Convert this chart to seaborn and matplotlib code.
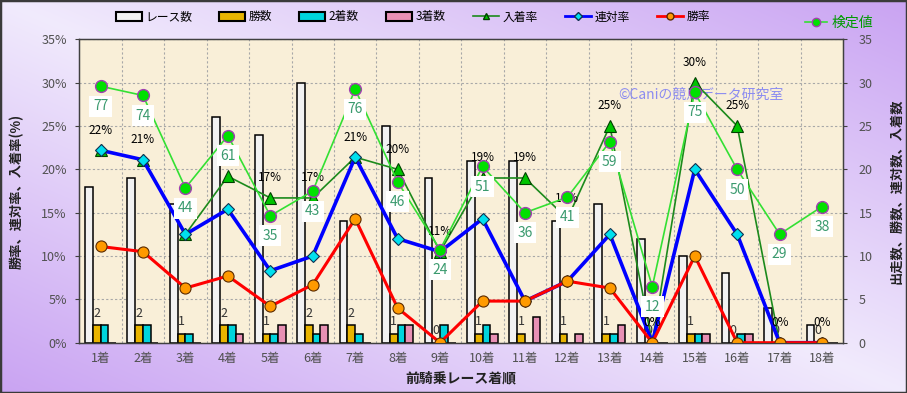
import numpy as np
import pandas as pd
import matplotlib
matplotlib.use("Agg")
import matplotlib.pyplot as plt
import seaborn as sns
from matplotlib.patches import Patch, Rectangle
from matplotlib.lines import Line2D

# ---------------- data ----------------
categories = ["1着", "2着", "3着", "4着", "5着", "6着", "7着", "8着", "9着",
              "10着", "11着", "12着", "13着", "14着", "15着", "16着", "17着", "18着"]
races = [18, 19, 16, 26, 24, 30, 14, 25, 19, 21, 21, 14, 16, 12, 10, 8, 4, 2]
wins = [2, 2, 1, 2, 1, 2, 2, 1, 0, 1, 1, 1, 1, 0, 1, 0, 0, 0]
seconds = [2, 2, 1, 2, 1, 1, 1, 2, 2, 2, 0, 0, 1, 0, 1, 1, 0, 0]
thirds = [0, 0, 0, 1, 2, 2, 0, 2, 0, 1, 3, 1, 2, 0, 1, 1, 0, 0]
place_rate = [22.2, 21.1, 12.5, 19.2, 16.7, 16.7, 21.4, 20.0, 10.5, 19.0,
              19.0, 14.3, 25.0, 0.0, 30.0, 25.0, 0.0, 0.0]
quinella_rate = [22.2, 21.1, 12.5, 15.4, 8.3, 10.0, 21.4, 12.0, 10.5, 14.3,
                 4.8, 7.1, 12.5, 0.0, 20.0, 12.5, 0.0, 0.0]
win_rate = [11.1, 10.5, 6.3, 7.7, 4.2, 6.7, 14.3, 4.0, 0.0, 4.8,
            4.8, 7.1, 6.3, 0.0, 10.0, 0.0, 0.0, 0.0]
test_values = [77, 74, 44, 61, 35, 43, 76, 46, 24, 51, 36, 41, 59, 12, 75, 50, 29, 38]

bar_names = ["レース数", "勝数", "2着数", "3着数"]
line_names = ["入着率", "連対率", "勝率"]
test_name = "検定値"
left_ticks = [0, 5, 10, 15, 20, 25, 30, 35]
right_ticks = [0, 5, 10, 15, 20, 25, 30, 35]

# ---------------- style ----------------
bar_colors = ["#f2f2f2", "#e8b400", "#00d4dc", "#e890b4"]
plt.rcParams["font.family"] = ["Noto Sans CJK JP", "DejaVu Sans"]
tick_color = "#505050"

pos = np.arange(len(categories))
df_bars = pd.concat([
    pd.DataFrame({"pos": pos, "series": name, "count": vals})
    for name, vals in zip(bar_names, [races, wins, seconds, thirds])
], ignore_index=True)

W, H = 907, 393
fig = plt.figure(figsize=(W / 100, H / 100), dpi=100)

# gradient background
bg = fig.add_axes([0, 0, 1, 1], zorder=-10)
xx = np.linspace(0, 1, W)[None, :]
yy = np.linspace(0, 1, H)[:, None]
t = np.abs(xx - yy)
light = np.array([0.945, 0.92, 0.99])
purple = np.array([0.79, 0.64, 0.95])
img = light + (purple - light) * t[..., None]
bg.imshow(img, aspect="auto", extent=[0, 1, 0, 1], origin="upper")
bg.axis("off")

L, R, T, B = 79.3, 843.3, 39.3, 342.7
ax = fig.add_axes([L / W, (H - B) / H, (R - L) / W, (B - T) / H])
ax.set_facecolor("#f9efd8")

# bars (count scale 0-35 shares the 0-35 range with the percent scale)
sns.barplot(data=df_bars, x="pos", y="count", hue="series", hue_order=bar_names,
            palette=bar_colors, native_scale=True, width=0.73, gap=0,
            edgecolor="black", linewidth=1.1, saturation=1, legend=False,
            ax=ax, zorder=2)
ax.bar_label(ax.containers[1], labels=[str(v) for v in wins], padding=4,
             fontsize=9, color="#333333", zorder=3)

# lines
sns.lineplot(x=pos, y=place_rate, ax=ax, color="#1c8a1c", lw=1.2, marker="^",
             markersize=9, markerfacecolor="#00c400", markeredgecolor="#004000",
             markeredgewidth=0.8, zorder=4)
sns.lineplot(x=pos, y=quinella_rate, ax=ax, color="#0000ff", lw=2.6, marker="D",
             markersize=6.5, markerfacecolor="#00e0ee", markeredgecolor="#103050",
             markeredgewidth=0.8, zorder=5)
sns.lineplot(x=pos, y=win_rate, ax=ax, color="#ff0000", lw=2.2, marker="o",
             markersize=8, markerfacecolor="#ff9a00", markeredgecolor="#5a2a00",
             markeredgewidth=0.8, zorder=6)
for p, v in zip(pos, place_rate):
    ax.annotate(f"{int(v + 0.5)}%", (p, v), xytext=(0, 14.5), textcoords="offset points",
                ha="center", va="center", fontsize=8.5, color="black", zorder=7)

ax.set_xlim(-0.5, len(categories) - 0.5)
ax.set_ylim(0, 35)
ax.set_yticks(left_ticks)
ax.set_yticklabels([f"{v}%" for v in left_ticks])
ax.set_xticks(pos)
ax.set_xticklabels(categories)
ax.set_xticks(pos[:-1] + 0.5, minor=True)
ax.set_axisbelow(True)
ax.grid(axis="y", which="major", color="#a8a8a8", ls=(0, (2, 2)), lw=0.8)
ax.grid(axis="x", which="minor", color="#a8a8a8", ls=(0, (2, 2)), lw=0.8)
ax.grid(axis="x", which="major", visible=False)
ax.tick_params(axis="x", which="both", length=0, pad=7, labelsize=9, labelcolor=tick_color)
ax.tick_params(axis="y", length=3, pad=6, labelsize=9, labelcolor=tick_color, color="#404040")
ax.set_xlabel("前騎乗レース着順", fontsize=10, color="#222222", fontweight="bold")
ax.xaxis.set_label_coords(0.5, -0.095)
ax.set_ylabel("勝率、連対率、入着率(%)", fontsize=9.5, color="#222222", fontweight="bold")
ax.yaxis.set_label_coords(-0.072, 0.5)
for s in ax.spines.values():
    s.set_color("#404040")
    s.set_linewidth(1.0)

ax.text(0.813, 0.816, "©Caniの競馬データ研究室", transform=ax.transAxes,
        ha="center", va="center", fontsize=10, color="#8c8cf0", zorder=1)

# right axis (counts)
ax2 = ax.twinx()
ax2.set_ylim(0, 35)
ax2.set_yticks(right_ticks)
ax2.tick_params(axis="y", length=3, pad=8, labelsize=9, labelcolor=tick_color, color="#404040")
ax2.set_ylabel("出走数、勝数、連対数、入着数", fontsize=9.5, color="#222222", fontweight="bold")
ax2.yaxis.set_label_coords(1.06, 0.5)
for s in ax2.spines.values():
    s.set_color("#404040")

# test value on its own hidden scale
ax3 = ax.twinx()
sns.lineplot(x=pos, y=test_values, ax=ax3, color="#33e033", lw=1.2, marker="o",
             markersize=8.5, markerfacecolor="#00e000", markeredgecolor="#a040b0",
             markeredgewidth=1.0, zorder=3)
ax3.set_ylim(-6.15, 92.2)
ax3.set_xlim(-0.5, len(categories) - 0.5)
for p, v in zip(pos, test_values):
    ax3.annotate(str(v), (p, v), xytext=(0, -14.5), textcoords="offset points",
                 ha="center", va="center", fontsize=10, color="#3a9a6e", zorder=5,
                 bbox=dict(boxstyle="square,pad=0.25", fc="white", ec="none"))
ax3.axis("off")

# legends
handles = [Patch(facecolor=c, edgecolor="black", linewidth=1.5, label=n)
           for n, c in zip(bar_names, bar_colors)]
handles += [
    Line2D([], [], color="#1c8a1c", lw=1.2, marker="^", ms=5, mfc="#00c400", mec="#004000", label=line_names[0]),
    Line2D([], [], color="#0000ff", lw=2.0, marker="D", ms=4, mfc="#00e0ee", mec="#103050", label=line_names[1]),
    Line2D([], [], color="#ff0000", lw=2.0, marker="o", ms=5, mfc="#ff9a00", mec="#5a2a00", label=line_names[2]),
]
fig.legend(handles=handles, loc="center", bbox_to_anchor=(0.455, 0.957), ncol=7,
           frameon=False, fontsize=8.5, handlelength=2.2, handleheight=0.8,
           handletextpad=0.3, columnspacing=2.3)
lg2 = fig.legend(handles=[Line2D([], [], color="#33e033", lw=1.2, marker="o", ms=6,
                                 mfc="#00e000", mec="#a040b0", label=test_name)],
                 loc="center", bbox_to_anchor=(0.925, 0.942), frameon=False,
                 fontsize=10, handlelength=1.6, handletextpad=0.3)
for txt in lg2.get_texts():
    txt.set_color("#009a00")

fig.patches.append(Rectangle((0, 0), 1, 1, transform=fig.transFigure, fill=False,
                             edgecolor="#3a3a3a", linewidth=2.5, zorder=100))

fig.savefig("out.png", dpi=100)
